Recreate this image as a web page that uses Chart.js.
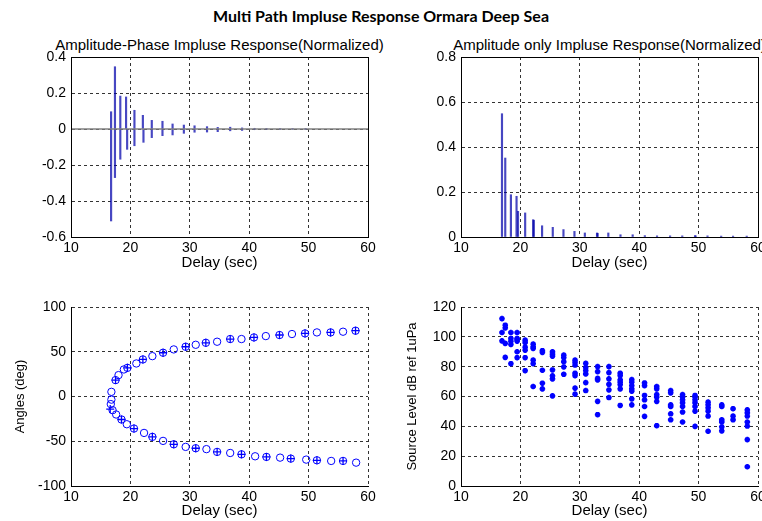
<!DOCTYPE html>
<html><head><meta charset="utf-8">
<script src="https://cdn.jsdelivr.net/npm/chart.js@4.4.0/dist/chart.umd.min.js"></script>
<style>
html,body{margin:0;padding:0;background:#fff;overflow:hidden;width:762px;height:521px;}
canvas{position:absolute;}
#main{position:absolute;left:0;top:7px;width:762px;text-align:center;font:bold 16px Lato, sans-serif;color:#000;line-height:18px;}
.sub{position:absolute;top:36px;width:420px;text-align:center;font:15px 'Liberation Sans', Arial, sans-serif;color:#000;line-height:18px;white-space:nowrap;}
</style></head><body>
<div id="main">Multi Path Impluse Response Ormara Deep Sea</div>
<div class="sub" style="left:9.5px">Amplitude-Phase Impluse Response(Normalized)</div>
<div class="sub" style="left:399.5px">Amplitude only Impluse Response(Normalized)</div>
<canvas id="c1" width="381" height="280" style="left:0;top:0"></canvas>
<canvas id="c2" width="400" height="280" style="left:381px;top:0"></canvas>
<canvas id="c3" width="381" height="241" style="left:0;top:280px"></canvas>
<canvas id="c4" width="400" height="241" style="left:381px;top:280px"></canvas>
<script>
// ---------- tick values / labels ----------
const delayTicks = [10, 20, 30, 40, 50, 60];
const delayTickLabels = ['10', '20', '30', '40', '50', '60'];
const apTicks = [-0.6, -0.4, -0.2, 0, 0.2, 0.4];
const apTickLabels = ['-0.6', '-0.4', '-0.2', '0', '0.2', '0.4'];
const aoTicks = [0, 0.2, 0.4, 0.6, 0.8];
const aoTickLabels = ['0', '0.2', '0.4', '0.6', '0.8'];
const angTicks = [-100, -50, 0, 50, 100];
const angTickLabels = ['-100', '-50', '0', '50', '100'];
const slTicks = [0, 20, 40, 60, 80, 100, 120];
const slTickLabels = ['0', '20', '40', '60', '80', '100', '120'];

// ---------- Amplitude-Phase impulse response (stems: low..high) ----------
const apDelay = [16.75, 17.4, 18.3, 19.27, 19.45, 20.68, 22.1, 22.2, 23.6, 25.4, 27.1, 29.0, 30.8, 32.9, 34.7, 36.8, 38.8, 40.9, 42.9, 45.2, 47.3, 49.5];
const apHigh  = [0.096, 0.346, 0.183, 0.178, 0, 0.104, 0.076, 0, 0.048, 0.043, 0.028, 0.022, 0.018, 0.013, 0.009, 0.01, 0.006, 0.004, 0.003, 0.002, 0.002, 0.003];
const apLow   = [-0.511, -0.27, -0.168, 0, -0.113, -0.093, 0, -0.074, -0.048, -0.037, -0.033, -0.024, -0.018, -0.017, -0.015, -0.01, -0.008, -0.004, -0.003, -0.003, -0.002, -0.003];
const apBaseline = [0, 0];
const apBaselineX = [10, 60];

// ---------- Amplitude only impulse response ----------
const aoDelay = [16.9, 17.45, 18.4, 19.35, 19.6, 20.8, 22.15, 22.25, 23.65, 25.45, 27.25, 29.1, 30.85, 32.9, 33.0, 34.8, 36.85, 38.9, 40.95, 43.0, 45.2, 47.25, 49.4, 49.5, 51.5, 53.8, 55.8, 58.1];
const aoAmp   = [0.548, 0.351, 0.188, 0.181, 0.114, 0.107, 0.077, 0.074, 0.05, 0.043, 0.033, 0.025, 0.018, 0.018, 0.016, 0.018, 0.01, 0.01, 0.006, 0.005, 0.005, 0.005, 0.006, 0.005, 0.005, 0.004, 0.004, 0.004];

// ---------- Angles ----------
const angDelayUp = [16.8, 17.5, 18.0, 18.9, 19.5, 21.0, 22.1, 23.7, 25.5, 27.3, 29.3, 31.0, 32.7, 34.6, 36.8, 38.7, 40.8, 42.8, 45.1, 47.2, 49.4, 51.4, 53.7, 55.8, 57.9];
const angUp      = [5.2, 18.3, 23.9, 30.2, 32, 36.9, 41.4, 45.1, 48.9, 52.6, 55.6, 57.8, 60, 61.2, 64.2, 64.2, 66, 67.5, 68.7, 69.8, 70.5, 71.6, 71.6, 72.4, 73.5];
const angDelayLow = [16.8, 16.7, 17.0, 17.6, 18.5, 19.4, 20.6, 22.3, 23.7, 25.5, 27.3, 29.3, 31.0, 32.8, 34.6, 36.8, 38.7, 41.0, 42.9, 45.2, 47.0, 49.6, 51.4, 53.8, 55.8, 58.0];
const angLow      = [-3.5, -8.5, -15.3, -20.1, -25.7, -31, -35.8, -40.7, -45.1, -49.6, -53.4, -56.3, -57.8, -58.8, -61.9, -63.1, -64.6, -66.8, -67.5, -68.3, -69.4, -70.5, -71.3, -72, -72, -73.9];
const plusDelay = [17.5, 19.5, 22.1, 25.5, 29.3, 32.7, 36.8, 40.8, 45.1, 49.4, 53.7, 57.9, 16.6, 18.5, 20.6, 23.7, 27.3, 31.0, 34.6, 38.7, 42.9, 47.0, 51.4, 55.8];
const plusAngle = [18.3, 32, 41.4, 48.9, 55.6, 60, 64.2, 66, 68.7, 70.5, 71.6, 73.5, -14, -25.7, -35.8, -45.1, -53.4, -57.8, -61.9, -64.6, -67.5, -69.4, -71.3, -72];

// ---------- Source level ----------
const slDelay = [16.9, 17.45, 18.4, 19.45, 20.8, 22.15, 23.7, 25.4, 27.3, 29.2, 31.0, 33.0, 34.9, 36.8, 38.75, 40.9, 42.95, 45.3, 47.3, 49.4, 51.6, 53.9, 55.8, 58.2];
const slLevels = [
  [112.2, 102.9, 97.3],
  [107.8, 106, 95.6, 86.2],
  [102.9, 98.9, 97.1, 94.9, 82],
  [102.9, 98.9, 98.2, 97.1, 90, 86],
  [97.8, 96.2, 93.1, 91.1, 86, 77.3],
  [95.1, 93.3, 92.2, 84.4, 82, 66.7],
  [90.7, 89.6, 77.6, 68.9, 65.1],
  [90, 88.4, 87.1, 77.8, 73.8, 71.8, 60.4],
  [87.8, 86, 83.3, 79.8, 74.9],
  [84.4, 82.9, 81.1, 75.6, 74, 65.6, 61.6],
  [82.2, 79.3, 77.3, 75.1, 69.3, 64],
  [80, 76.7, 72.2, 71.1, 56.7, 47.8],
  [80, 76, 71.8, 68.2, 64.4, 59.3],
  [75.6, 74, 71.1, 69.6, 68, 65.1, 54],
  [71.3, 69.6, 67.3, 65.1, 63.6, 58.4, 54.4],
  [69.1, 67.3, 60.7, 57.8, 53.3, 46.7],
  [66.7, 65.1, 61.3, 59.6, 56.7, 40.4],
  [64, 62.4, 54.4, 53.3, 48.4, 44.4],
  [61.3, 59.6, 57.8, 55.8, 53.3, 49.6, 42.9],
  [60.7, 59.6, 57.8, 55.8, 53.3, 50.2, 40],
  [56.2, 54.4, 52.4, 50.2, 46.9, 36.7],
  [54.4, 53.3, 44.4, 42.9, 39.6, 36.9],
  [51.8, 46.9, 44.4],
  [51.1, 49.1, 46.9, 42.9, 40.2, 31.1, 12.9]
];

// ---------- helpers ----------
const FONT = "'Liberation Sans', Arial, sans-serif";
const STEM = 'rgba(0,0,170,0.72)';
const BLUE = '#0000ff';

function xScale(height, titlePadBottom) {
  return {
    type: 'linear', min: 10, max: 60, offset: false,
    afterBuildTicks: s => { s.ticks = delayTicks.map(v => ({value: v})); },
    afterFit: s => { s.height = height; },
    ticks: {callback: (v, i) => delayTickLabels[i], font: {family: FONT, size: 14}, color: '#000', padding: 3, maxRotation: 0, autoSkip: false},
    grid: {color: '#333', lineWidth: 1, drawTicks: false, offset: false},
    border: {display: true, color: '#000', width: 1, dash: [3, 3]},
    title: {display: true, text: 'Delay (sec)', color: '#000', font: {family: FONT, size: 15, lineHeight: 1.2}, padding: {top: 0, bottom: titlePadBottom}}
  };
}
function yScale(ticks, labels, width, titleText, titlePadTop) {
  return {
    type: 'linear', min: ticks[0], max: ticks[ticks.length - 1],
    afterBuildTicks: s => { s.ticks = ticks.map(v => ({value: v})); },
    afterFit: s => { s.width = width; },
    ticks: {callback: (v, i) => labels[i], font: {family: FONT, size: 14}, color: '#000', padding: 5, autoSkip: false},
    grid: {color: '#333', lineWidth: 1, drawTicks: false},
    border: {display: true, color: '#000', width: 1, dash: [3, 3]},
    title: {display: !!titleText, text: titleText || '', color: '#000', font: {family: FONT, size: 13, lineHeight: 1.2}, padding: {top: titlePadTop || 0, bottom: 0}}
  };
}
const boxPlugin = {
  id: 'box',
  afterDraw(chart, args, opts) {
    if (!opts.on) return;
    const {ctx, chartArea: a} = chart;
    ctx.save();
    ctx.strokeStyle = '#000'; ctx.lineWidth = 1; ctx.setLineDash([]);
    const l = Math.round(a.left) + 0.5, t = Math.round(a.top) + 0.5;
    ctx.strokeRect(l, t, Math.round(a.right) - Math.round(a.left), Math.round(a.bottom) - Math.round(a.top));
    ctx.restore();
  }
};
const common = {responsive: false, animation: false, devicePixelRatio: 1, events: []};

// ---------- Panel 1 ----------
new Chart(document.getElementById('c1'), {
  type: 'bar',
  data: {datasets: [
    {type: 'line', order: 0, data: apBaselineX.map((x, i) => ({x, y: apBaseline[i]})), borderColor: '#808080', borderWidth: 1.5, pointRadius: 0},
    {type: 'bar', order: 1, data: apDelay.map((x, i) => ({x, y: [apLow[i], apHigh[i]]})), backgroundColor: STEM, borderWidth: 0, barThickness: 1.5, grouped: false}
  ]},
  options: Object.assign({}, common, {
    layout: {padding: {left: 0, top: 57, right: 13, bottom: 0}},
    scales: {x: xScale(43, 8.2), y: yScale(apTicks, apTickLabels, 71)},
    plugins: {legend: {display: false}, tooltip: {enabled: false}, box: {on: true}}
  }),
  plugins: [boxPlugin]
});

// ---------- Panel 2 ----------
new Chart(document.getElementById('c2'), {
  type: 'bar',
  data: {datasets: [
    {type: 'bar', data: aoDelay.map((x, i) => ({x, y: aoAmp[i]})), backgroundColor: STEM, borderWidth: 0, barThickness: 1.5, grouped: false}
  ]},
  options: Object.assign({}, common, {
    layout: {padding: {left: 0, top: 57, right: 23, bottom: 0}},
    scales: {x: xScale(43, 8.2), y: yScale(aoTicks, aoTickLabels, 80)},
    plugins: {legend: {display: false}, tooltip: {enabled: false}, box: {on: true}}
  }),
  plugins: [boxPlugin]
});

// ---------- Panel 3 ----------
new Chart(document.getElementById('c3'), {
  type: 'scatter',
  data: {datasets: [
    {data: plusDelay.map((x, i) => ({x, y: plusAngle[i]})), pointStyle: 'cross', pointRadius: 4, borderColor: BLUE, borderWidth: 1.3, backgroundColor: BLUE},
    {data: angDelayUp.map((x, i) => ({x, y: angUp[i]})), pointStyle: 'circle', pointRadius: 3.7, borderColor: BLUE, borderWidth: 1, backgroundColor: 'rgba(0,0,0,0)'},
    {data: angDelayLow.map((x, i) => ({x, y: angLow[i]})), pointStyle: 'circle', pointRadius: 3.7, borderColor: BLUE, borderWidth: 1, backgroundColor: 'rgba(0,0,0,0)'}
  ]},
  options: Object.assign({}, common, {
    layout: {padding: {left: 0, top: 27, right: 13, bottom: 0}},
    scales: {x: xScale(35, 1.2), y: yScale(angTicks, angTickLabels, 71, 'Angles (deg)', 12.2)},
    plugins: {legend: {display: false}, tooltip: {enabled: false}}
  })
});

// ---------- Panel 4 ----------
const slPoints = [];
slDelay.forEach((x, i) => slLevels[i].forEach(y => slPoints.push({x, y})));
new Chart(document.getElementById('c4'), {
  type: 'scatter',
  data: {datasets: [
    {data: slPoints, pointStyle: 'star', pointRadius: 2.8, borderColor: BLUE, borderWidth: 1.8, backgroundColor: BLUE}
  ]},
  options: Object.assign({}, common, {
    layout: {padding: {left: 0, top: 27, right: 23, bottom: 0}},
    scales: {x: xScale(35, 1.2), y: yScale(slTicks, slTickLabels, 80, 'Source Level dB ref 1uPa', 23.2)},
    plugins: {legend: {display: false}, tooltip: {enabled: false}}
  })
});
</script></body></html>
